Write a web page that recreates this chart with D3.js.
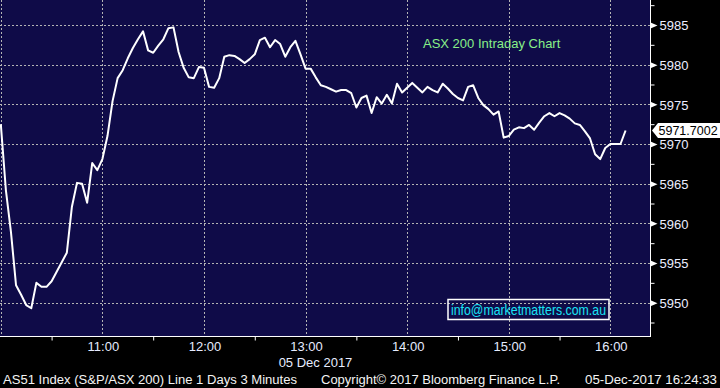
<!DOCTYPE html>
<html>
<head>
<meta charset="utf-8">
<script src="https://cdn.jsdelivr.net/npm/d3@7"></script>
<style>
  html, body { margin: 0; padding: 0; background: #000; }
  svg { display: block; font-family: "Liberation Sans", Arial, sans-serif; }
</style>
</head>
<body>
<div id="chart"></div>
<script>
// AS51 intraday, 3 minute bars starting 10:00
const sessionStart = '2017-12-05 10:00';
const barMinutes = 3;
const prices = [
  5972.5, 5964.2, 5958.9, 5952.2, 5951.0, 5949.7, 5949.3, 5952.5, 5952.0, 5952.0,
  5952.7, 5953.9, 5955.1, 5956.3, 5962.1, 5965.1, 5965.0, 5962.6, 5967.6, 5966.7,
  5968.1, 5971.0, 5975.4, 5978.3, 5979.3, 5980.8, 5982.1, 5983.2, 5984.2, 5981.8,
  5981.5, 5982.4, 5983.2, 5984.6, 5984.7, 5981.6, 5979.6, 5978.4, 5978.3, 5979.7,
  5979.6, 5977.2, 5977.1, 5978.3, 5981.0, 5981.2, 5981.1, 5980.7, 5980.2, 5980.7,
  5981.3, 5983.1, 5983.4, 5982.2, 5983.1, 5982.6, 5981.0, 5982.2, 5983.0, 5981.3,
  5979.5, 5979.5, 5978.4, 5977.4, 5977.2, 5976.9, 5976.6, 5976.8, 5976.8, 5976.4,
  5974.6, 5975.8, 5976.1, 5973.9, 5975.9, 5975.1, 5976.2, 5975.1, 5977.6, 5976.5,
  5977.1, 5977.7, 5977.1, 5976.5, 5977.2, 5976.8, 5976.5, 5977.6, 5977.0, 5976.3,
  5975.8, 5975.5, 5977.2, 5977.4, 5975.8, 5974.9, 5974.4, 5973.7, 5974.1, 5970.8,
  5971.0, 5971.8, 5972.1, 5972.0, 5972.4, 5971.8, 5972.7, 5973.5, 5973.9, 5973.5,
  5973.9, 5973.6, 5973.2, 5972.6, 5972.4, 5971.6, 5970.7, 5968.7, 5968.1, 5969.5,
  5970.0, 5970.0, 5970.0, 5971.7002
];
const priceTicks = [5950, 5955, 5960, 5965, 5970, 5975, 5980, 5985];
const minorPriceTicks = [5947.5, 5952.5, 5957.5, 5962.5, 5967.5, 5972.5, 5977.5, 5982.5, 5987.5];
const hourTicks = ['10:00', '11:00', '12:00', '13:00', '14:00', '15:00', '16:00'];
const halfHourTicks = ['10:30', '11:30', '12:30', '13:30', '14:30', '15:30'];
const dateLabel = '05 Dec 2017';
const chartTitle = 'ASX 200 Intraday Chart';
const footerLeft = 'AS51 Index (S&P/ASX 200) Line 1 Days 3 Minutes';
const footerMid = 'Copyright\u00A9 2017 Bloomberg Finance L.P.';
const footerRight = '05-Dec-2017 16:24:33';
const contact = 'info@marketmatters.com.au';

const width = 720, height = 388;
const plot = { left: 0, top: 0, right: 650, bottom: 336 };

const parseTime = d3.timeParse('%Y-%m-%d %H:%M');
const onDay = t => parseTime('2017-12-05 ' + t);
const t0 = parseTime(sessionStart);
const series = prices.map((v, i) => ({ t: d3.timeMinute.offset(t0, i * barMinutes), v }));

const svg = d3.select('#chart').append('svg')
  .attr('width', width)
  .attr('height', height);

svg.append('rect').attr('width', width).attr('height', height).attr('fill', '#000');
svg.append('rect')
  .attr('x', plot.left).attr('y', plot.top)
  .attr('width', plot.right - plot.left).attr('height', plot.bottom - plot.top)
  .attr('fill', '#0f0b48');

const x = d3.scaleTime()
  .domain([onDay('10:00'), parseTime('2017-12-05 16:22')])
  .range([0.8, 647.6]);

const y = d3.scaleLinear()
  .domain([5945.8, 5988.15])
  .range([plot.bottom, plot.top]);

// grid
const grid = svg.append('g').attr('stroke', '#b4b4b4').attr('stroke-width', 1)
  .attr('stroke-dasharray', '2,2');
grid.selectAll('.hg').data(priceTicks).join('line')
  .attr('x1', plot.left).attr('x2', plot.right)
  .attr('y1', d => Math.round(y(d)) + 0.5).attr('y2', d => Math.round(y(d)) + 0.5);
grid.selectAll('.vg').data(hourTicks).join('line')
  .attr('x1', d => Math.round(x(onDay(d))) + 0.5).attr('x2', d => Math.round(x(onDay(d))) + 0.5)
  .attr('y1', plot.top).attr('y2', plot.bottom);

// title
svg.append('text')
  .attr('x', 423).attr('y', 47.5)
  .attr('fill', '#88f088')
  .attr('font-size', 13)
  .text(chartTitle);

// price line
svg.append('clipPath').attr('id', 'clip')
  .append('rect').attr('width', plot.right).attr('height', plot.bottom);

const line = d3.line().x(d => x(d.t)).y(d => y(d.v));
svg.append('path')
  .datum(series)
  .attr('clip-path', 'url(#clip)')
  .attr('fill', 'none')
  .attr('stroke', '#fff')
  .attr('stroke-width', 2)
  .attr('stroke-linejoin', 'round')
  .attr('d', line);

// contact box
svg.append('rect')
  .attr('x', 448).attr('y', 299.5).attr('width', 161).attr('height', 20)
  .attr('fill', 'none').attr('stroke', '#fff').attr('stroke-width', 1.5);
svg.append('text')
  .attr('x', 451).attr('y', 314.5)
  .attr('fill', '#19e3f5')
  .attr('font-size', 14)
  .attr('textLength', 155).attr('lengthAdjust', 'spacingAndGlyphs')
  .text(contact);

// right axis
const yAxis = svg.append('g')
  .attr('transform', `translate(${plot.right + 0.5},0)`)
  .call(d3.axisRight(y).tickValues(priceTicks).tickSize(0).tickPadding(9)
    .tickFormat(d3.format('d')));
yAxis.select('.domain').attr('stroke', '#fff').attr('d', `M0,${plot.top}V${plot.bottom}`);
yAxis.selectAll('.tick text')
  .attr('fill', '#eceeff').attr('font-size', 13)
  .attr('font-family', '"Liberation Sans", Arial, sans-serif')
  .attr('dy', '0.38em');
yAxis.selectAll('.tick').append('path')
  .attr('d', 'M0,-3L7,0L0,3Z')
  .attr('fill', '#fff');

const yMinor = svg.append('g')
  .attr('transform', `translate(${plot.right + 0.5},0)`)
  .call(d3.axisRight(y).tickValues(minorPriceTicks).tickSize(4).tickFormat(''));
yMinor.select('.domain').remove();
yMinor.selectAll('.tick line').attr('stroke', '#fff');

// bottom axis
const xAxis = svg.append('g')
  .attr('transform', `translate(0,${plot.bottom + 0.5})`)
  .call(d3.axisBottom(x).tickValues(halfHourTicks.map(onDay)).tickSize(4).tickFormat(''));
xAxis.select('.domain').attr('stroke', '#fff').attr('d', `M${plot.left},0H${plot.right + 1}`);
xAxis.selectAll('.tick line').attr('stroke', '#fff');

svg.append('g').selectAll('text')
  .data(hourTicks.slice(1))
  .join('text')
  .attr('x', d => x(onDay(d)) + 1)
  .attr('y', 350.5)
  .attr('text-anchor', 'middle')
  .attr('fill', '#e6ecff')
  .attr('font-size', 13)
  .text(d => d);

svg.append('text')
  .attr('x', 315.5).attr('y', 366.5)
  .attr('text-anchor', 'middle')
  .attr('fill', '#e6ecff')
  .attr('font-size', 13)
  .text(dateLabel);

// last value tag
const lastY = y(prices[prices.length - 1]);
svg.append('path')
  .attr('d', `M652,${lastY}L658,${lastY - 7.5}H720V${lastY + 7.5}H658Z`)
  .attr('fill', '#fff');
svg.append('text')
  .attr('x', 658.5).attr('y', lastY + 4.5)
  .attr('fill', '#000')
  .attr('font-size', 12.5)
  .text(d3.format('.4f')(prices[prices.length - 1]));

// footer
const footer = svg.append('g').attr('fill', '#f4f4f4').attr('font-size', 12.5);
footer.append('text').attr('x', 3).attr('y', 384)
  .attr('textLength', 294).attr('lengthAdjust', 'spacingAndGlyphs').text(footerLeft);
footer.append('text').attr('x', 321).attr('y', 384)
  .attr('textLength', 239).attr('lengthAdjust', 'spacingAndGlyphs').text(footerMid);
footer.append('text').attr('x', 585).attr('y', 384)
  .attr('textLength', 132).attr('lengthAdjust', 'spacingAndGlyphs').text(footerRight);
</script>
</body>
</html>
